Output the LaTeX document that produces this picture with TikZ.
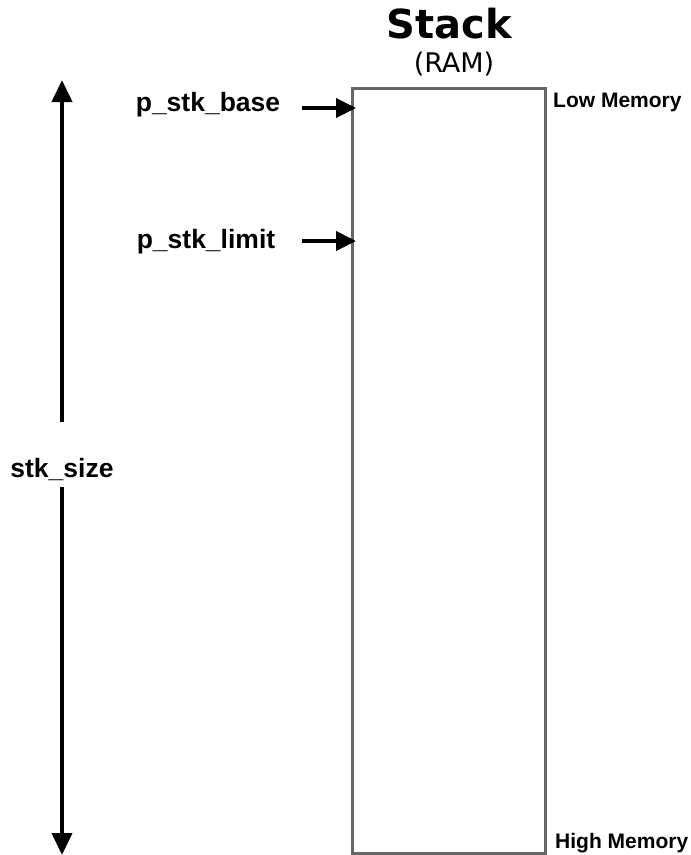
\documentclass[tikz,border=0pt]{standalone}
\usepackage{fontspec}
\setmainfont{Liberation Sans}
\newfontfamily\dejavu{DejaVu Sans}
\usetikzlibrary{arrows.meta}
\definecolor{boxgray}{HTML}{666666}
\tikzset{
  lbl/.style={font=\fontsize{26.5}{29}\selectfont\bfseries, inner sep=0pt},
  memlbl/.style={font=\fontsize{21}{24}\selectfont\bfseries, inner sep=0pt, anchor=base west},
  ptr/.style={line width=4pt, -{Triangle[length=20pt,width=19pt]}},
  sizearrow/.style={line width=4pt, -{Triangle[length=22pt,width=20pt]}},
}
\begin{document}
\begin{tikzpicture}[x=1pt,y=-1pt]
\useasboundingbox (0,0) rectangle (691,855);
\node[font=\dejavu\fontsize{40}{44}\selectfont\bfseries, inner sep=0pt] (title) at (449,24) {Stack};
\node[font=\dejavu\fontsize{27}{30}\selectfont, inner sep=0pt] (ram) at (454,64) {(RAM)};
\draw[boxgray, line width=3pt] (352,88) rectangle (545,853);
\coordinate (box) at (352,88);
\node[memlbl] (low) at (553,107) {Low Memory};
\node[memlbl] (high) at (555,848) {High Memory};
\node[lbl] (base) at (208,105) {p\_stk\_base};
\node[lbl] (limit) at (206,242) {p\_stk\_limit};
\coordinate (bs) at (302,108);
\coordinate (be) at (356,108);
\coordinate (ls) at (302,241);
\coordinate (le) at (356,241);
\draw[ptr] (bs) -- (be);
\draw[ptr] (ls) -- (le);
\node[lbl] (size) at (62,470) {stk\_size};
\coordinate (top) at (62,80);
\coordinate (bot) at (62,855);
\draw[sizearrow] (62,422) -- (top);
\draw[sizearrow] (62,487) -- (bot);
\end{tikzpicture}
\end{document}
